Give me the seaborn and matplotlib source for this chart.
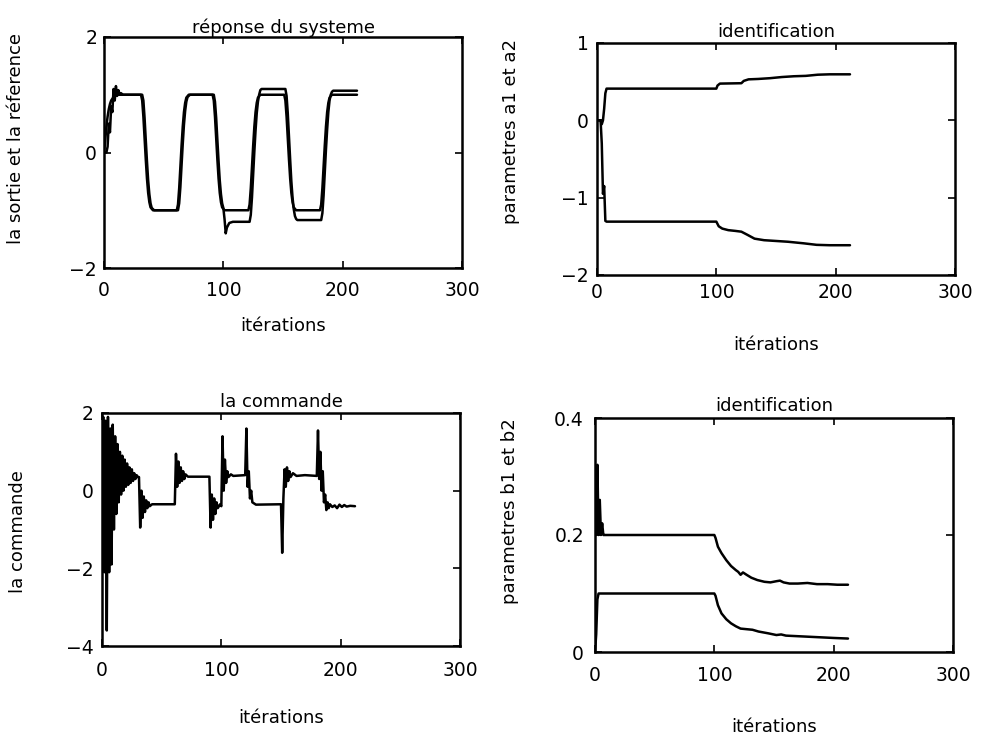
import matplotlib
matplotlib.use("Agg")
import matplotlib.pyplot as plt
import seaborn as sns
import pandas as pd

# ---- réponse du systeme : reference and plant output ----
ref_x = [0, 1, 2, 3, 4, 5, 6, 8, 10, 12,
         31, 32, 33, 34, 35, 36, 37, 38, 39, 41,
         61, 62, 63, 64, 65, 66, 67, 68, 69, 71,
         91, 92, 93, 94, 95, 96, 97, 98, 99, 101,
         121, 122, 123, 124, 125, 126, 127, 128, 129, 131,
         151, 152, 153, 154, 155, 156, 157, 158, 159, 161,
         181, 182, 183, 184, 185, 186, 187, 188, 189, 191, 212]
ref_y = [0.0, 0.2, 0.45, 0.62, 0.75, 0.84, 0.9, 0.96, 0.99, 1.0,
         1.0, 0.9, 0.62, 0.25, -0.12, -0.45, -0.7, -0.86, -0.95, -1.0,
         -1.0, -0.9, -0.62, -0.25, 0.12, 0.45, 0.7, 0.86, 0.95, 1.0,
         1.0, 0.9, 0.62, 0.25, -0.12, -0.45, -0.7, -0.86, -0.95, -1.0,
         -1.0, -0.9, -0.62, -0.25, 0.12, 0.45, 0.7, 0.86, 0.95, 1.0,
         1.0, 0.9, 0.62, 0.25, -0.12, -0.45, -0.7, -0.86, -0.95, -1.0,
         -1.0, -0.9, -0.62, -0.25, 0.12, 0.45, 0.7, 0.86, 0.95, 1.0, 1.0]

out_x = [0, 2, 3, 4, 5, 6, 7, 8, 9, 10, 11, 12, 13, 14, 16,
         32, 33, 34, 35, 36, 37, 38, 39, 40, 42,
         62, 63, 64, 65, 66, 67, 68, 69, 70, 72,
         92, 93, 94, 95, 96, 97, 98, 99, 100, 101, 102, 103, 105, 108,
         122, 123, 124, 125, 126, 127, 128, 129, 130, 131, 132,
         152, 153, 154, 155, 156, 157, 158, 159, 160, 161, 162,
         182, 183, 184, 185, 186, 187, 188, 189, 190, 191, 192, 212]
out_y = [0.0, 0.0, 0.1, 0.5, 0.35, 0.8, 0.7, 1.1, 0.9, 1.15, 0.98, 1.08, 1.0, 1.03, 1.0,
         1.0, 0.9, 0.6, 0.22, -0.15, -0.48, -0.72, -0.88, -0.96, -1.0,
         -1.0, -0.88, -0.6, -0.22, 0.15, 0.48, 0.72, 0.88, 0.96, 1.0,
         1.0, 0.88, 0.6, 0.22, -0.15, -0.48, -0.72, -0.88, -0.96, -1.15, -1.4, -1.3, -1.22, -1.2,
         -1.2, -1.08, -0.78, -0.38, 0.02, 0.38, 0.68, 0.88, 1.0, 1.08, 1.1,
         1.1, 0.98, 0.68, 0.28, -0.12, -0.5, -0.78, -0.98, -1.1, -1.15, -1.17,
         -1.17, -1.05, -0.75, -0.35, 0.05, 0.4, 0.7, 0.9, 1.0, 1.05, 1.07, 1.07]

# ---- identification : a1, a2 ----
a2_x = [0, 3, 4, 5, 6, 7, 8, 100, 101, 103, 121, 123, 127, 135, 145, 155, 165, 175, 185, 195, 212]
a2_y = [0.0, 0.0, -0.05, 0.0, 0.15, 0.35, 0.41, 0.41, 0.45, 0.475, 0.48, 0.51, 0.53, 0.535,
        0.545, 0.56, 0.57, 0.575, 0.59, 0.595, 0.595]
a1_x = [0, 3, 4, 5, 6, 7, 8, 100, 102, 105, 110, 116, 121, 126, 132, 140, 150, 160, 173, 184, 195, 212]
a1_y = [0.0, 0.0, -0.3, -0.95, -0.85, -1.3, -1.31, -1.31, -1.37, -1.40, -1.42, -1.43, -1.44,
        -1.48, -1.53, -1.55, -1.56, -1.57, -1.59, -1.61, -1.615, -1.615]

# ---- la commande ----
u_x = list(range(0, 41)) + [42, 61, 62, 63, 64, 65, 66, 67, 68, 69, 70, 72,
       90, 91, 92, 93, 94, 95, 96, 97, 99, 100, 101, 102, 103, 104, 105, 106, 108, 110,
       120, 121, 122, 123, 124, 125, 126, 127, 129,
       150, 151, 152, 153, 154, 155, 156, 157, 158, 160, 163, 170,
       180, 181, 182, 183, 184, 185, 186, 187, 188, 189, 190, 191, 193,
       195, 197, 199, 201, 203, 205, 208, 212]
u_y = [0.0, 1.9, -2.1, 1.8, -3.6, 1.9, -2.1, 1.6, -1.9, 1.7,
       -1.0, 1.4, -0.6, 1.2, -0.3, 1.0, -0.1, 0.9, 0.0, 0.8,
       0.1, 0.7, 0.15, 0.6, 0.2, 0.55, 0.25, 0.45, 0.3, 0.4,
       0.35, 0.35, -0.95, 0.0, -0.7, -0.15, -0.55, -0.25, -0.45, -0.3, -0.4,
       -0.35, -0.35, 0.95, 0.1, 0.75, 0.2, 0.6, 0.25, 0.5, 0.3, 0.42, 0.36,
       0.36, -0.95, -0.1, -0.75, -0.2, -0.6, -0.3, -0.45, -0.35, -0.4, 1.4, 0.0, 0.8, 0.2,
       0.5, 0.35, 0.42, 0.38,
       0.4, 1.6, 0.1, 0.5, -0.2, 0.0, -0.3, -0.32, -0.36,
       -0.35, -1.6, -0.2, 0.55, 0.1, 0.6, 0.25, 0.5, 0.35, 0.45, 0.38, 0.4,
       0.38, 1.55, 0.3, 1.0, 0.0, 0.5, -0.3, -0.1, -0.5, -0.3, -0.45, -0.35, -0.42,
       -0.38, -0.45, -0.36, -0.42, -0.37, -0.41, -0.39, -0.4]

# ---- identification : b1, b2 ----
b1_x = [0, 1, 2, 3, 4, 5, 6, 7, 8, 100, 101, 103, 106, 110, 114, 118, 120, 122, 124, 127,
        131, 136, 142, 147, 152, 155, 158, 163, 170, 178, 186, 195, 203, 212]
b1_y = [0.2, 0.2, 0.32, 0.2, 0.26, 0.2, 0.22, 0.2, 0.2, 0.2, 0.195, 0.18, 0.169, 0.157, 0.147,
        0.14, 0.137, 0.132, 0.136, 0.132, 0.127, 0.123, 0.12, 0.119, 0.121, 0.122, 0.119,
        0.117, 0.117, 0.118, 0.116, 0.116, 0.115, 0.115]
b2_x = [0, 1, 2, 3, 100, 101, 103, 106, 110, 114, 118, 122, 127, 132, 137, 145, 152, 156,
        160, 170, 180, 190, 200, 212]
b2_y = [0.0, 0.03, 0.09, 0.1, 0.1, 0.096, 0.08, 0.066, 0.056, 0.049, 0.044, 0.04, 0.039,
        0.038, 0.035, 0.032, 0.029, 0.03, 0.028, 0.027, 0.026, 0.025, 0.024, 0.023]

x_ticks = [0, 100, 200, 300]

sns.set_style("ticks")
plt.rcParams["font.family"] = ["DejaVu Sans"]
plt.rcParams["text.color"] = "black"
plt.rcParams["axes.labelcolor"] = "black"
plt.rcParams["axes.titlecolor"] = "black"

W, H = 982, 737
fig = plt.figure(figsize=(W / 100, H / 100), dpi=100)


def make_axes(left, top, right, bottom):
    return fig.add_axes([left / W, 1 - bottom / H, (right - left) / W, (bottom - top) / H])


def draw(ax, xs, ys):
    df = pd.DataFrame({"k": xs, "v": ys})
    sns.lineplot(data=df, x="k", y="v", ax=ax, color="black", lw=1.8,
                 estimator=None, sort=False)


def style(ax, title, ylabel, ylim, yticks, yticklabels, ylab_pos, xlab_y, xpad, ypad, tpad):
    ax.set_xlim(0, 300)
    ax.set_ylim(*ylim)
    ax.set_xticks(x_ticks)
    ax.set_xticklabels([str(t) for t in x_ticks])
    ax.set_yticks(yticks)
    ax.set_yticklabels(yticklabels)
    ax.tick_params(axis="both", direction="in", top=True, right=True, length=5,
                   width=1.2, labelsize=13.5, colors="black")
    ax.tick_params(axis="x", pad=xpad)
    ax.tick_params(axis="y", pad=ypad)
    for s in ax.spines.values():
        s.set_linewidth(1.8)
        s.set_color("black")
    ax.set_title(title, fontsize=13, pad=tpad, color="black")
    ax.set_xlabel("itérations", fontsize=13, color="black")
    ax.set_ylabel(ylabel, fontsize=13, color="black")
    ax.xaxis.set_label_coords(0.5, xlab_y)
    ax.yaxis.set_label_coords(*ylab_pos)


ax1 = make_axes(104, 37, 462, 268)
draw(ax1, ref_x, ref_y)
draw(ax1, out_x, out_y)
style(ax1, "réponse du systeme", "la sortie et la réference", (-2, 2), [-2, 0, 2],
      ["−2", "0", "2"], (-0.22, 0.56), -0.21, 9, 5, 3)

ax2 = make_axes(597, 43, 955, 275)
draw(ax2, a2_x, a2_y)
draw(ax2, a1_x, a1_y)
style(ax2, "identification", "parametres a1 et a2", (-2, 1), [-2, -1, 0, 1],
      ["−2", "−1", "0", "1"], (-0.215, 0.62), -0.265, 6, 6, 4)

ax3 = make_axes(102, 413, 460, 646)
draw(ax3, u_x, u_y)
style(ax3, "la commande", "la commande", (-4, 2), [-4, -2, 0, 2],
      ["−4", "−2", "0", "2"], (-0.21, 0.49), -0.27, 11, 6, 4)

ax4 = make_axes(595, 418, 953, 652)
draw(ax4, b1_x, b1_y)
draw(ax4, b2_x, b2_y)
style(ax4, "identification", "parametres b1 et b2", (0, 0.4), [0, 0.2, 0.4],
      ["0", "0.2", "0.4"], (-0.212, 0.60), -0.28, 10, 8, 5)

fig.savefig("out.png", dpi=100, facecolor="white")
